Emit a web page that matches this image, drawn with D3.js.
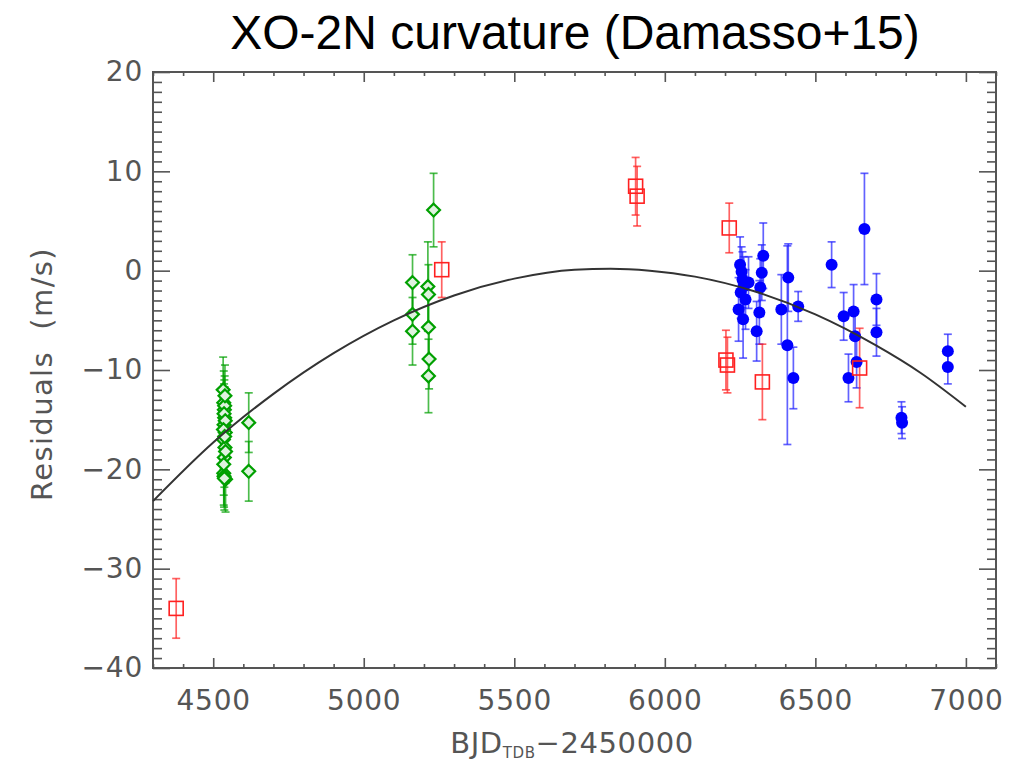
<!DOCTYPE html>
<html>
<head>
<meta charset="utf-8">
<script src="https://cdn.jsdelivr.net/npm/d3@7"></script>
<style>
  body { margin: 0; background: #fff; }
  svg { display: block; }
  .tick text { font-family: "DejaVu Sans", sans-serif; font-size: 28px; fill: #555; letter-spacing: 0.8px; }
  .tick line { stroke: #555; stroke-width: 1.6; }
</style>
</head>
<body>
<svg id="chart" width="1028" height="761"></svg>
<script>
// green series (open diamonds)
var greenX   = [4533, 4535, 4537, 4538, 4536, 4540, 4534, 4539, 4537, 4535, 4541, 4536, 4538, 4539, 4536, 4540, 4534, 4538, 4541, 4535, 4537, 4618, 4618, 5162, 5162, 5162, 5213, 5215, 5215, 5217, 5215, 5232];
var greenY   = [-12.0, -13.3, -14.0, -14.8, -15.5, -16.3, -17.0, -17.8, -18.8, -20.4, -21.0, -20.7, -13.6, -12.6, -14.4, -15.1, -16.0, -16.7, -18.2, -19.5, -20.9, -15.3, -20.2, -1.2, -4.4, -6.1, -1.6, -2.4, -5.7, -8.9, -10.6, 6.1];
var greenErr = [3.3, 3.2, 3.0, 3.1, 3.0, 3.2, 3.0, 3.1, 3.0, 3.2, 3.3, 3.1, 3.0, 3.1, 3.0, 3.2, 3.1, 3.0, 3.2, 3.1, 3.2, 3.0, 3.0, 2.8, 3.0, 3.4, 4.5, 3.0, 3.1, 3.0, 3.7, 3.7];

// red series (open squares)
var redX   = [4377, 5259, 5903, 5908, 6203, 6208, 6214, 6324, 6647];
var redY   = [-34.0, 0.1, 8.5, 7.5, -9.0, -9.5, 4.3, -11.2, -9.8];
var redErr = [3.0, 2.8, 2.9, 3.0, 3.0, 2.8, 2.5, 3.8, 4.0];

// blue series (filled circles)
var blueX   = [6250, 6255, 6258, 6262, 6252, 6268, 6245, 6260, 6278, 6327, 6322, 6317, 6314, 6305, 6387, 6410, 6407, 6427, 6443, 6554, 6594, 6627, 6610, 6637, 6632, 6663, 6703, 6703, 6786, 6788, 6940, 6940];
var blueY   = [0.6, -0.1, -0.9, -1.6, -2.2, -2.9, -3.9, -4.9, -1.2, 1.5, -0.2, -1.7, -4.2, -6.1, -3.9, -0.7, -7.5, -10.8, -3.6, 0.6, -4.6, -4.1, -10.8, -9.2, -6.6, 4.2, -2.9, -6.2, -14.8, -15.3, -8.1, -9.7];
var blueErr = [2.8, 2.5, 2.8, 3.0, 2.6, 3.0, 3.2, 3.9, 2.6, 3.3, 2.8, 2.9, 3.2, 3.0, 3.5, 3.4, 10.0, 3.1, 1.5, 2.3, 2.4, 2.7, 2.4, 2.6, 2.5, 5.6, 2.6, 2.4, 1.6, 1.6, 1.7, 1.7];

// fitted curvature
var curveX = [4300, 4500, 4700, 4900, 5100, 5300, 5500, 5700, 5820, 5950, 6100, 6300, 6500, 6700, 6850, 7000];
var curveY = [-23.2, -17.3, -12.4, -8.3, -5.0, -2.5, -0.8, 0.1, 0.2, 0.0, -0.6, -2.1, -4.4, -7.5, -10.3, -13.7];

var xTicks = [4500, 5000, 5500, 6000, 6500, 7000];
var yTicks = [-40, -30, -20, -10, 0, 10, 20];

var svg = d3.select('#chart');
// plot box edges (note: "top" is a reserved window global, so use other names)
var boxLeft = 153, boxRight = 996, boxTop = 72, boxBottom = 668;

var x = d3.scaleLinear().domain([4300, 7100]).range([boxLeft, boxRight]);
var y = d3.scaleLinear().domain([-40, 20]).range([boxBottom, boxTop]);

// title
svg.append('text')
  .attr('x', 575).attr('y', 49)
  .attr('text-anchor', 'middle')
  .style('font-family', '"Liberation Sans", Arial, sans-serif')
  .style('font-size', '48px')
  .style('fill', '#000')
  .text('XO-2N curvature (Damasso+15)');

// minor ticks (every 100 in x, every 1 in y)
var xMinor = d3.range(4300, 7101, 100).filter(function(v) { return v % 500 !== 0; });
var yMinor = d3.range(-40, 21, 1).filter(function(v) { return v % 10 !== 0; });

function addAxis(axis, tx, ty) {
  var g = svg.append('g').attr('transform', 'translate(' + tx + ',' + ty + ')').call(axis);
  g.select('.domain').remove();
  return g;
}

addAxis(d3.axisBottom(x).tickValues(xMinor).tickSize(-4).tickFormat(''), 0, boxBottom);
addAxis(d3.axisTop(x).tickValues(xMinor).tickSize(-4).tickFormat(''), 0, boxTop);
addAxis(d3.axisLeft(y).tickValues(yMinor).tickSize(-9).tickFormat(''), boxLeft, 0);
addAxis(d3.axisRight(y).tickValues(yMinor).tickSize(-9).tickFormat(''), boxRight, 0);

addAxis(d3.axisBottom(x).tickValues(xTicks).tickSize(-10).tickPadding(22).tickFormat(d3.format('d')), 0, boxBottom);
addAxis(d3.axisTop(x).tickValues(xTicks).tickSize(-10).tickFormat(''), 0, boxTop);
addAxis(d3.axisLeft(y).tickValues(yTicks).tickSize(-17).tickPadding(10).tickFormat(d3.format('d')), boxLeft, 0);
addAxis(d3.axisRight(y).tickValues(yTicks).tickSize(-17).tickFormat(''), boxRight, 0);

// frame
svg.append('rect')
  .attr('x', boxLeft).attr('y', boxTop)
  .attr('width', boxRight - boxLeft).attr('height', boxBottom - boxTop)
  .attr('fill', 'none')
  .attr('stroke', '#555')
  .attr('stroke-width', 2);

// axis titles
var xLabel = svg.append('text')
  .attr('x', 572).attr('y', 753)
  .attr('text-anchor', 'middle')
  .style('font-family', '"DejaVu Sans", sans-serif')
  .style('font-size', '29px')
  .style('fill', '#555')
  .style('letter-spacing', '0.6px');
xLabel.append('tspan').text('BJD');
xLabel.append('tspan').attr('dy', 5).style('font-size', '15px').text('TDB');
xLabel.append('tspan').attr('dy', -5).text('\u22122450000');

svg.append('text')
  .attr('transform', 'translate(52,374) rotate(-90)')
  .attr('text-anchor', 'middle')
  .style('font-family', '"DejaVu Sans", sans-serif')
  .style('font-size', '29px')
  .style('fill', '#555')
  .style('letter-spacing', '1.4px')
  .text('Residuals \u00a0(m/s)');

// builds rows from the named arrays
function rows(xs, ys, errs) {
  return xs.map(function(v, i) { return { x: v, y: ys[i], e: errs[i] }; });
}

var plot = svg.append('g');

function drawErrors(data, colour) {
  var g = plot.append('g')
    .attr('stroke', colour)
    .attr('stroke-width', 1.7)
    .attr('stroke-opacity', 0.7);
  data.forEach(function(d) {
    var cx = x(d.x), y1 = y(d.y + d.e), y2 = y(d.y - d.e);
    g.append('line').attr('x1', cx).attr('x2', cx).attr('y1', y1).attr('y2', y2);
    g.append('line').attr('x1', cx - 4).attr('x2', cx + 4).attr('y1', y1).attr('y2', y1);
    g.append('line').attr('x1', cx - 4).attr('x2', cx + 4).attr('y1', y2).attr('y2', y2);
  });
}

var green = rows(greenX, greenY, greenErr);
var red = rows(redX, redY, redErr);
var blue = rows(blueX, blueY, blueErr);

drawErrors(green, '#00a000');
drawErrors(blue, '#2020ff');
drawErrors(red, '#ff2020');

plot.selectAll('.gpt').data(green).enter().append('path')
  .attr('class', 'gpt')
  .attr('d', d3.symbol().type(d3.symbolDiamond2).size(105))
  .attr('transform', function(d) { return 'translate(' + x(d.x) + ',' + y(d.y) + ')'; })
  .attr('fill', '#dff2df')
  .attr('stroke', '#00a000')
  .attr('stroke-width', 2.2);

plot.selectAll('.bpt').data(blue).enter().append('circle')
  .attr('class', 'bpt')
  .attr('cx', function(d) { return x(d.x); })
  .attr('cy', function(d) { return y(d.y); })
  .attr('r', 6)
  .attr('fill', '#0000ff');

plot.selectAll('.rpt').data(red).enter().append('rect')
  .attr('class', 'rpt')
  .attr('x', function(d) { return x(d.x) - 7; })
  .attr('y', function(d) { return y(d.y) - 7; })
  .attr('width', 14).attr('height', 14)
  .attr('fill', 'none')
  .attr('stroke', '#ff2020')
  .attr('stroke-width', 1.6);

// fitted curve on top of the points
var line = d3.line()
  .x(function(d, i) { return x(curveX[i]); })
  .y(function(d) { return y(d); })
  .curve(d3.curveMonotoneX);

svg.append('path')
  .datum(curveY)
  .attr('d', line)
  .attr('fill', 'none')
  .attr('stroke', '#333')
  .attr('stroke-width', 2);
</script>
</body>
</html>
